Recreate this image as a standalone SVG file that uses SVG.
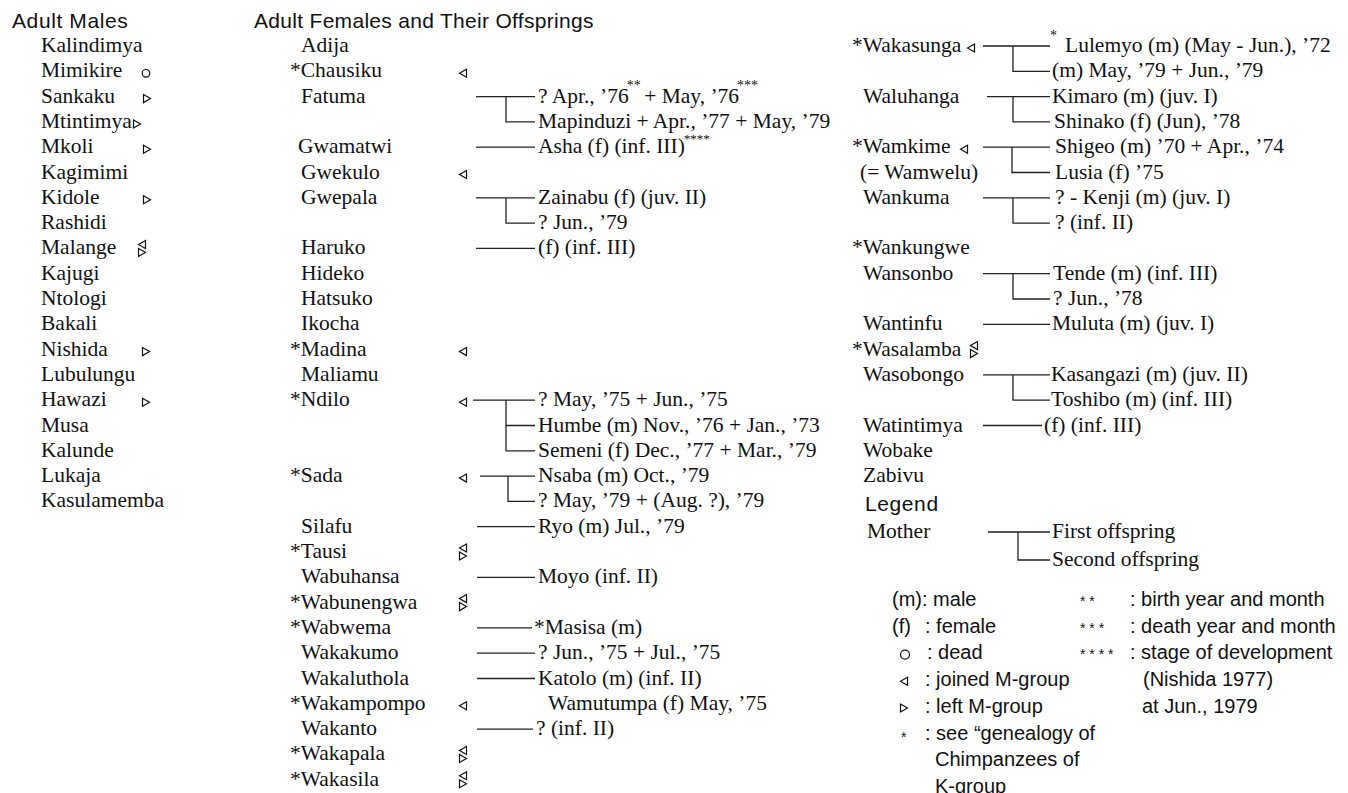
<svg xmlns="http://www.w3.org/2000/svg" xmlns:xlink="http://www.w3.org/1999/xlink" width="1348" height="793" viewBox="0 0 1348 793">
<style>
.n{font-family:"Liberation Serif",serif;font-size:21.5px;fill:#111}
.h{font-family:"Liberation Sans",sans-serif;font-size:21px;letter-spacing:0.6px;fill:#111}
.h2{letter-spacing:0.3px}
.l{font-family:"Liberation Sans",sans-serif;font-size:20px;fill:#111}
.s{font-size:14px}
.s2{font-size:13px}
.ls{font-family:"Liberation Sans",sans-serif;font-size:14px;fill:#111}
.c{stroke:#222;stroke-width:1.3;fill:none}
.mk{stroke:#111;stroke-width:1.2;fill:none}
</style>
<defs>
<path id="tl" class="mk" d="M3.5,-4 L-3.5,0 L3.5,4 Z"/>
<path id="tr" class="mk" d="M-3.5,-4 L3.5,0 L-3.5,4 Z"/>
</defs>
<rect width="1348" height="793" fill="#fff"/>

<g id="headings">
<text class="h" x="12" y="28">Adult Males</text>
<text class="h h2" x="254" y="28">Adult Females and Their Offsprings</text>
</g>

<g id="males">
<g id="m-kalindimya"><text class="n" x="41" y="52">Kalindimya</text></g>
<g id="m-mimikire"><text class="n" x="41" y="77.3">Mimikire</text><circle class="mk" cx="146" cy="73.3" r="3.8"/></g>
<g id="m-sankaku"><text class="n" x="41" y="102.6">Sankaku</text><use xlink:href="#tr" x="147" y="98.6"/></g>
<g id="m-mtintimya"><text class="n" x="41" y="127.9">Mtintimya</text><use xlink:href="#tr" x="137" y="123.9"/></g>
<g id="m-mkoli"><text class="n" x="41" y="153.2">Mkoli</text><use xlink:href="#tr" x="147" y="149.2"/></g>
<g id="m-kagimimi"><text class="n" x="41" y="178.5">Kagimimi</text></g>
<g id="m-kidole"><text class="n" x="41" y="203.8">Kidole</text><use xlink:href="#tr" x="147" y="199.8"/></g>
<g id="m-rashidi"><text class="n" x="41" y="229.1">Rashidi</text></g>
<g id="m-malange"><text class="n" x="41" y="254.4">Malange</text><use xlink:href="#tl" x="142" y="244.4"/><use xlink:href="#tr" x="142" y="252.4"/></g>
<g id="m-kajugi"><text class="n" x="41" y="279.7">Kajugi</text></g>
<g id="m-ntologi"><text class="n" x="41" y="305">Ntologi</text></g>
<g id="m-bakali"><text class="n" x="41" y="330.3">Bakali</text></g>
<g id="m-nishida"><text class="n" x="41" y="355.6">Nishida</text><use xlink:href="#tr" x="146" y="351.6"/></g>
<g id="m-lubulungu"><text class="n" x="41" y="380.9">Lubulungu</text></g>
<g id="m-hawazi"><text class="n" x="41" y="406.2">Hawazi</text><use xlink:href="#tr" x="146" y="402.2"/></g>
<g id="m-musa"><text class="n" x="41" y="431.5">Musa</text></g>
<g id="m-kalunde"><text class="n" x="41" y="456.8">Kalunde</text></g>
<g id="m-lukaja"><text class="n" x="41" y="482.1">Lukaja</text></g>
<g id="m-kasulamemba"><text class="n" x="41" y="507.4">Kasulamemba</text></g>
</g>

<g id="females">
<g id="f-adija"><text class="n" x="301" y="52">Adija</text></g>
<g id="f-chausiku"><text class="n" x="290" y="77.3">*Chausiku</text><use xlink:href="#tl" x="463" y="73.3"/></g>
<g id="f-fatuma"><text class="n" x="301" y="102.6">Fatuma</text>
<text class="n" x="538" y="102.6">? Apr., ’76<tspan class="s" dx="-2" dy="-13">**</tspan><tspan dx="-2" dy="13"> + May, ’76</tspan><tspan class="s" dx="-2" dy="-13">***</tspan></text>
<text class="n" x="538" y="127.9">Mapinduzi + Apr., ’77 + May, ’79</text></g>
<g id="f-gwamatwi"><text class="n" x="298" y="153.2">Gwamatwi</text>
<text class="n" x="538" y="153.2">Asha (f) (inf. III)<tspan class="s2" dx="-1" dy="-10">****</tspan></text></g>
<g id="f-gwekulo"><text class="n" x="301" y="178.5">Gwekulo</text><use xlink:href="#tl" x="463" y="174.5"/></g>
<g id="f-gwepala"><text class="n" x="301" y="203.8">Gwepala</text>
<text class="n" x="538" y="203.8">Zainabu (f) (juv. II)</text>
<text class="n" x="538" y="229.1">? Jun., ’79</text></g>
<g id="f-haruko"><text class="n" x="301" y="254.4">Haruko</text><text class="n" x="538" y="254.4">(f) (inf. III)</text></g>
<g id="f-hideko"><text class="n" x="301" y="279.7">Hideko</text></g>
<g id="f-hatsuko"><text class="n" x="301" y="305">Hatsuko</text></g>
<g id="f-ikocha"><text class="n" x="301" y="330.3">Ikocha</text></g>
<g id="f-madina"><text class="n" x="290" y="355.6">*Madina</text><use xlink:href="#tl" x="463" y="351.6"/></g>
<g id="f-maliamu"><text class="n" x="301" y="380.9">Maliamu</text></g>
<g id="f-ndilo"><text class="n" x="290" y="406.2">*Ndilo</text><use xlink:href="#tl" x="463" y="402.2"/>
<text class="n" x="538" y="406.2">? May, ’75 + Jun., ’75</text>
<text class="n" x="538" y="431.5">Humbe (m) Nov., ’76 + Jan., ’73</text>
<text class="n" x="538" y="456.8">Semeni (f) Dec., ’77 + Mar., ’79</text></g>
<g id="f-sada"><text class="n" x="290" y="482.1">*Sada</text><use xlink:href="#tl" x="463" y="478.1"/>
<text class="n" x="538" y="482.1">Nsaba (m) Oct., ’79</text>
<text class="n" x="538" y="507.4">? May, ’79 + (Aug. ?), ’79</text></g>
<g id="f-silafu"><text class="n" x="301" y="532.7">Silafu</text><text class="n" x="538" y="532.7">Ryo (m) Jul., ’79</text></g>
<g id="f-tausi"><text class="n" x="290" y="558">*Tausi</text><use xlink:href="#tl" x="463" y="548"/><use xlink:href="#tr" x="463" y="556"/></g>
<g id="f-wabuhansa"><text class="n" x="301" y="583.3">Wabuhansa</text><text class="n" x="538" y="583.3">Moyo (inf. II)</text></g>
<g id="f-wabunengwa"><text class="n" x="290" y="608.6">*Wabunengwa</text><use xlink:href="#tl" x="463" y="598.6"/><use xlink:href="#tr" x="463" y="606.6"/></g>
<g id="f-wabwema"><text class="n" x="290" y="633.9">*Wabwema</text><text class="n" x="534" y="633.9">*Masisa (m)</text></g>
<g id="f-wakakumo"><text class="n" x="301" y="659.2">Wakakumo</text><text class="n" x="538" y="659.2">? Jun., ’75 + Jul., ’75</text></g>
<g id="f-wakaluthola"><text class="n" x="301" y="684.5">Wakaluthola</text><text class="n" x="538" y="684.5">Katolo (m) (inf. II)</text></g>
<g id="f-wakampompo"><text class="n" x="290" y="709.8">*Wakampompo</text><use xlink:href="#tl" x="463" y="705.8"/><text class="n" x="548" y="709.8">Wamutumpa (f) May, ’75</text></g>
<g id="f-wakanto"><text class="n" x="301" y="735.1">Wakanto</text><text class="n" x="536" y="735.1">? (inf. II)</text></g>
<g id="f-wakapala"><text class="n" x="290" y="760.4">*Wakapala</text><use xlink:href="#tl" x="463" y="750.4"/><use xlink:href="#tr" x="463" y="758.4"/></g>
<g id="f-wakasila"><text class="n" x="290" y="785.7">*Wakasila</text><use xlink:href="#tl" x="463" y="775.7"/><use xlink:href="#tr" x="463" y="783.7"/></g>
</g>

<g id="females-2">
<g id="f-wakasunga"><text class="n" x="852" y="52">*Wakasunga</text><use xlink:href="#tl" x="971" y="48"/>
<text class="n s" x="1050" y="40">*</text>
<text class="n" x="1065" y="52">Lulemyo (m) (May - Jun.), ’72</text>
<text class="n" x="1052" y="77.3">(m) May, ’79 + Jun., ’79</text></g>
<g id="f-waluhanga"><text class="n" x="863" y="102.6">Waluhanga</text>
<text class="n" x="1052" y="102.6">Kimaro (m) (juv. I)</text>
<text class="n" x="1054" y="127.9">Shinako (f) (Jun), ’78</text></g>
<g id="f-wamkime"><text class="n" x="852" y="153.2">*Wamkime</text><use xlink:href="#tl" x="964" y="149.2"/>
<text class="n" x="860" y="178.5">(= Wamwelu)</text>
<text class="n" x="1055" y="153.2">Shigeo (m) ’70 + Apr., ’74</text>
<text class="n" x="1055" y="178.5">Lusia (f) ’75</text></g>
<g id="f-wankuma"><text class="n" x="863" y="203.8">Wankuma</text>
<text class="n" x="1055" y="203.8">? - Kenji (m) (juv. I)</text>
<text class="n" x="1055" y="229.1">? (inf. II)</text></g>
<g id="f-wankungwe"><text class="n" x="852" y="254.4">*Wankungwe</text></g>
<g id="f-wansonbo"><text class="n" x="863" y="279.7">Wansonbo</text>
<text class="n" x="1053" y="279.7">Tende (m) (inf. III)</text>
<text class="n" x="1053" y="305">? Jun., ’78</text></g>
<g id="f-wantinfu"><text class="n" x="863" y="330.3">Wantinfu</text><text class="n" x="1052" y="330.3">Muluta (m) (juv. I)</text></g>
<g id="f-wasalamba"><text class="n" x="852" y="355.6">*Wasalamba</text><use xlink:href="#tl" x="974" y="345.6"/><use xlink:href="#tr" x="974" y="353.6"/></g>
<g id="f-wasobongo"><text class="n" x="863" y="380.9">Wasobongo</text>
<text class="n" x="1051" y="380.9">Kasangazi (m) (juv. II)</text>
<text class="n" x="1051" y="406.2">Toshibo (m) (inf. III)</text></g>
<g id="f-watintimya"><text class="n" x="863" y="431.5">Watintimya</text><text class="n" x="1044" y="431.5">(f) (inf. III)</text></g>
<g id="f-wobake"><text class="n" x="863" y="456.8">Wobake</text></g>
<g id="f-zabivu"><text class="n" x="863" y="482.1">Zabivu</text></g>
</g>

<g id="legend">
<text class="h" x="865" y="511">Legend</text>
<text class="n" x="867" y="538">Mother</text>
<text class="n" x="1052" y="538">First offspring</text>
<text class="n" x="1052" y="566">Second offspring</text>
<text class="l" x="892" y="606">(m): male</text>
<text class="l" x="892" y="632.7">(f)</text><text class="l" x="925" y="632.7">: female</text>
<circle class="mk" cx="905" cy="654.6" r="4.5"/><text class="l" x="927" y="659.4">: dead</text>
<use xlink:href="#tl" x="904" y="681.3"/><text class="l" x="925" y="686.1">: joined M-group</text>
<use xlink:href="#tr" x="904" y="708"/><text class="l" x="925" y="712.8">: left M-group</text>
<text class="ls" x="901" y="741.5">*</text><text class="l" x="925" y="739.5">: see “genealogy of</text>
<text class="l" x="935" y="766.2">Chimpanzees of</text>
<text class="l" x="935" y="792.9">K-group</text>
<text class="ls" x="1080" y="606">* *</text><text class="l" x="1130" y="606">: birth year and month</text>
<text class="ls" x="1080" y="632.7">* * *</text><text class="l" x="1130" y="632.7">: death year and month</text>
<text class="ls" x="1080" y="659.4">* * * *</text><text class="l" x="1130" y="659.4">: stage of development</text>
<text class="l" x="1143" y="686.1">(Nishida 1977)</text>
<text class="l" x="1142" y="712.8">at Jun., 1979</text>
</g>

<g id="connectors">
<path class="c" d="M476,96.6H535M506,96.6V121.9H535"/>
<path class="c" d="M476,147.2H535"/>
<path class="c" d="M476,197.8H535M506,197.8V223.1H535"/>
<path class="c" d="M476,248.4H535"/>
<path class="c" d="M473,400.2H535M506,400.2V450.8H535M506,425.5H535"/>
<path class="c" d="M480,476.1H535M508,476.1V501.4H535"/>
<path class="c" d="M477,526.7H535"/>
<path class="c" d="M477,577.3H535"/>
<path class="c" d="M477,627.9H532"/>
<path class="c" d="M477,653.2H535"/>
<path class="c" d="M477,678.5H535"/>
<path class="c" d="M477,729.1H533"/>
<path class="c" d="M983,46H1050M1013,46V71.3H1050"/>
<path class="c" d="M987,96.6H1050M1013,96.6V121.9H1050"/>
<path class="c" d="M983,147.2H1050M1012,147.2V172.5H1050"/>
<path class="c" d="M983,197.8H1050M1013,197.8V223.1H1050"/>
<path class="c" d="M983,273.7H1050M1013,273.7V299H1050"/>
<path class="c" d="M983,324.3H1050"/>
<path class="c" d="M983,374.9H1050M1013,374.9V400.2H1050"/>
<path class="c" d="M983,425.5H1042"/>
<path class="c" d="M988,532H1050M1018,532V560H1050"/>
</g>
</svg>
